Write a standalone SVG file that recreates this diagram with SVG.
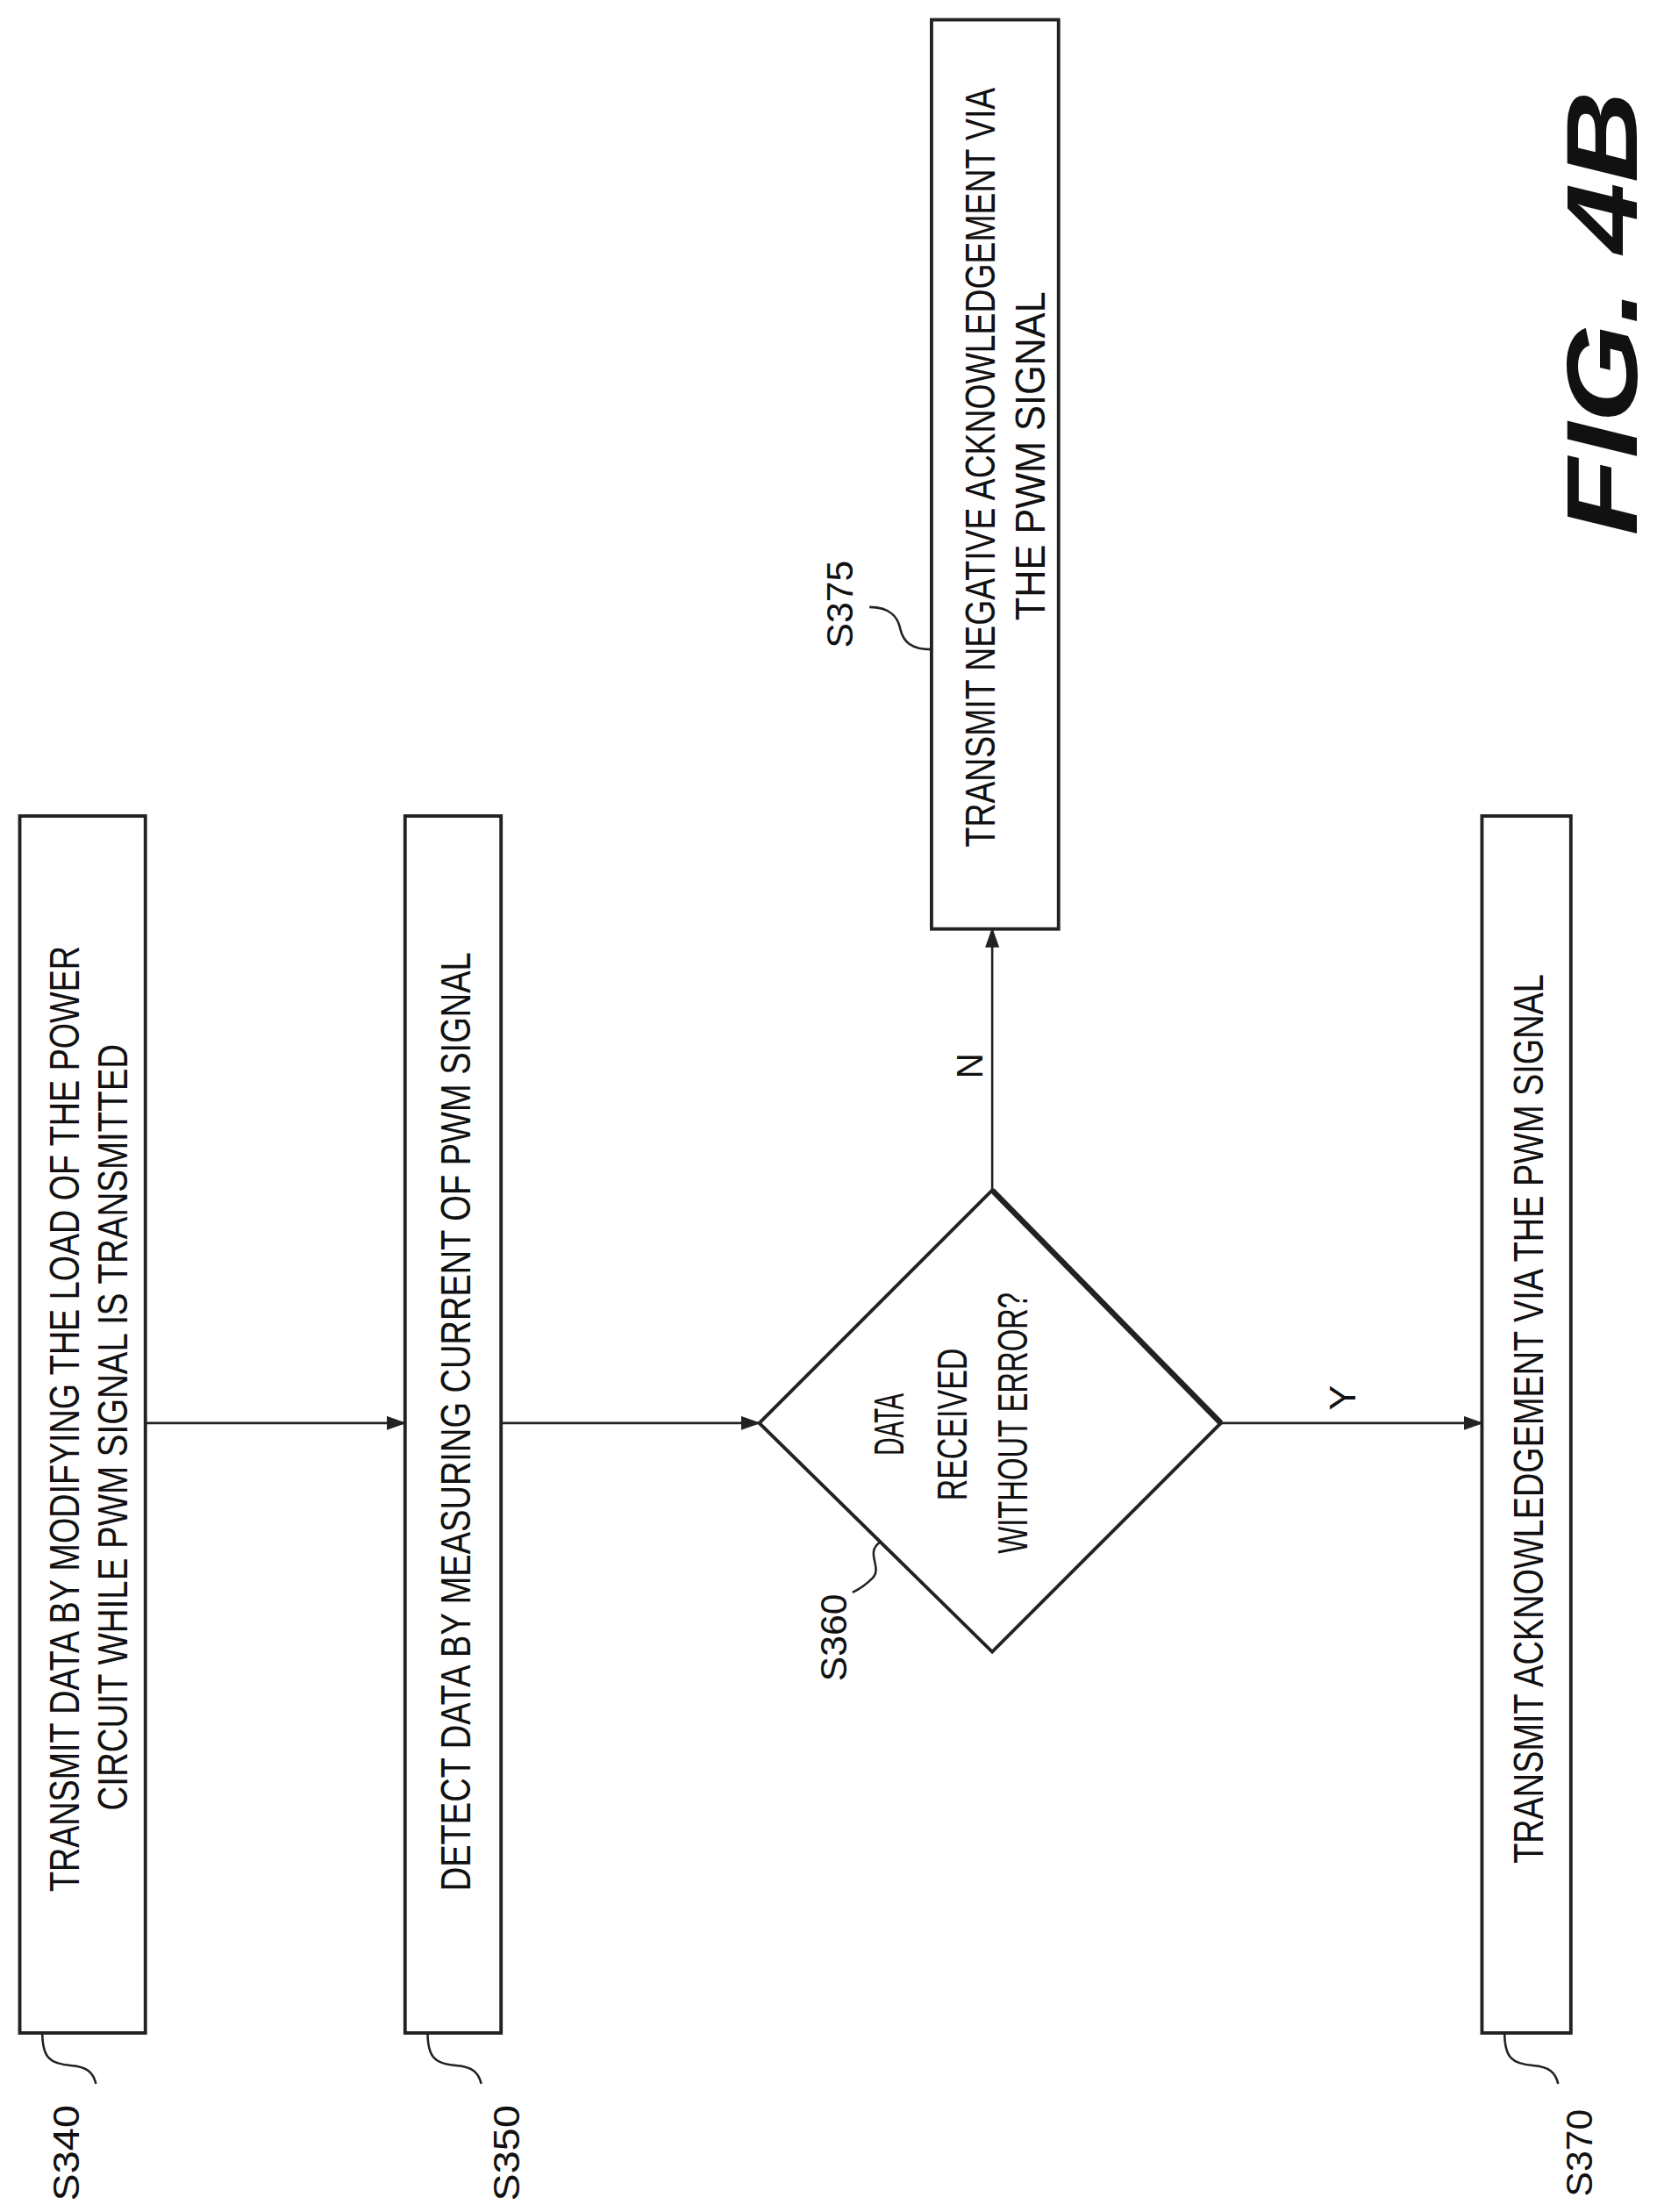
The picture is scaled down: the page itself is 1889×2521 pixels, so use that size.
<svg xmlns="http://www.w3.org/2000/svg" width="1889" height="2521" viewBox="0 0 1889 2521">
<style>
.b{fill:#fff;stroke:#222;stroke-width:2.4}
.l{fill:none;stroke:#222;stroke-width:1.6}
.t{font-family:"Liberation Sans",Arial,sans-serif;font-size:30px;fill:#111;text-anchor:middle}
.s{font-family:"Liberation Sans",Arial,sans-serif;font-size:26px;fill:#111;text-anchor:middle}
</style>
<defs><marker id="a" markerWidth="14" markerHeight="10" refX="13" refY="5" orient="auto" markerUnits="userSpaceOnUse"><path d="M0,0 L14,5 L0,10 Z" fill="#222"/></marker></defs>
<rect width="1889" height="2521" fill="#fff"/>
<g transform="scale(1.609)">
<g id="connectors">
<line class="l" x1="103" y1="1008" x2="287" y2="1008" marker-end="url(#a)"/>
<line class="l" x1="355" y1="1008" x2="538" y2="1008" marker-end="url(#a)"/>
<line class="l" x1="703" y1="843" x2="703" y2="658" marker-end="url(#a)"/>
<line class="l" x1="865" y1="1008" x2="1050" y2="1008" marker-end="url(#a)"/>
<text class="s" transform="translate(696,755) rotate(-90)" textLength="18" lengthAdjust="spacingAndGlyphs">N</text>
<text class="s" transform="translate(960,990) rotate(-90)" textLength="18" lengthAdjust="spacingAndGlyphs">Y</text>
</g>
<g id="S340">
<rect class="b" x="14" y="578" width="89" height="862"/>
<text class="t" transform="translate(56,1005) rotate(-90)" textLength="670" lengthAdjust="spacingAndGlyphs">TRANSMIT DATA BY MODIFYING THE LOAD OF THE POWER</text>
<text class="t" transform="translate(90,1011) rotate(-90)" textLength="543" lengthAdjust="spacingAndGlyphs">CIRCUIT WHILE PWM SIGNAL IS TRANSMITTED</text>
<path class="l" d="M30,1440 C30,1458 36,1462 50,1463 C62,1464 66,1468 68,1476"/>
<text class="s" transform="translate(56,1525) rotate(-90)" textLength="68" lengthAdjust="spacingAndGlyphs">S340</text>
</g>
<g id="S350">
<rect class="b" x="287" y="578" width="68" height="862"/>
<text class="t" transform="translate(333,1007) rotate(-90)" textLength="665" lengthAdjust="spacingAndGlyphs">DETECT DATA BY MEASURING CURRENT OF PWM SIGNAL</text>
<path class="l" d="M303,1440 C303,1458 309,1462 323,1463 C335,1464 339,1468 341,1476"/>
<text class="s" transform="translate(368,1525) rotate(-90)" textLength="68" lengthAdjust="spacingAndGlyphs">S350</text>
</g>
<g id="S360">
<polygon class="b" points="538,1008 703,843 865,1008 703,1170"/>
<line x1="703" y1="843" x2="865" y2="1008" stroke="#222" stroke-width="4"/>
<text class="t" transform="translate(640,1009) rotate(-90)" textLength="44" lengthAdjust="spacingAndGlyphs">DATA</text>
<text class="t" transform="translate(685,1009) rotate(-90)" textLength="108" lengthAdjust="spacingAndGlyphs">RECEIVED</text>
<text class="t" transform="translate(728,1008) rotate(-90)" textLength="185" lengthAdjust="spacingAndGlyphs">WITHOUT ERROR?</text>
<path class="l" d="M624,1092 C612,1100 626,1110 618,1118 C612,1124 608,1126 604,1128"/>
<text class="s" transform="translate(600,1160) rotate(-90)" textLength="62" lengthAdjust="spacingAndGlyphs">S360</text>
</g>
<g id="S375">
<rect class="b" x="660" y="14" width="90" height="644"/>
<text class="t" transform="translate(705,331) rotate(-90)" textLength="538" lengthAdjust="spacingAndGlyphs">TRANSMIT NEGATIVE ACKNOWLEDGEMENT VIA</text>
<text class="t" transform="translate(740,323) rotate(-90)" textLength="233" lengthAdjust="spacingAndGlyphs">THE PWM SIGNAL</text>
<path class="l" d="M660,460 C645,460 640,454 638,446 C636,436 630,430 616,430"/>
<text class="s" transform="translate(604,428) rotate(-90)" textLength="62" lengthAdjust="spacingAndGlyphs">S375</text>
</g>
<g id="S370">
<rect class="b" x="1050" y="578" width="63" height="862"/>
<text class="t" transform="translate(1093,1005) rotate(-90)" textLength="630" lengthAdjust="spacingAndGlyphs">TRANSMIT ACKNOWLEDGEMENT VIA THE PWM SIGNAL</text>
<path class="l" d="M1066,1440 C1066,1458 1072,1462 1086,1463 C1098,1464 1102,1468 1104,1476"/>
<text class="s" transform="translate(1128,1525) rotate(-90)" textLength="62" lengthAdjust="spacingAndGlyphs">S370</text>
</g>
<text transform="translate(1160,222) rotate(-90)" font-family="Liberation Sans,Arial,sans-serif" font-size="72" font-weight="bold" font-style="italic" text-anchor="middle" fill="#111" textLength="315" lengthAdjust="spacingAndGlyphs">FIG. 4B</text>
</g>
</svg>
